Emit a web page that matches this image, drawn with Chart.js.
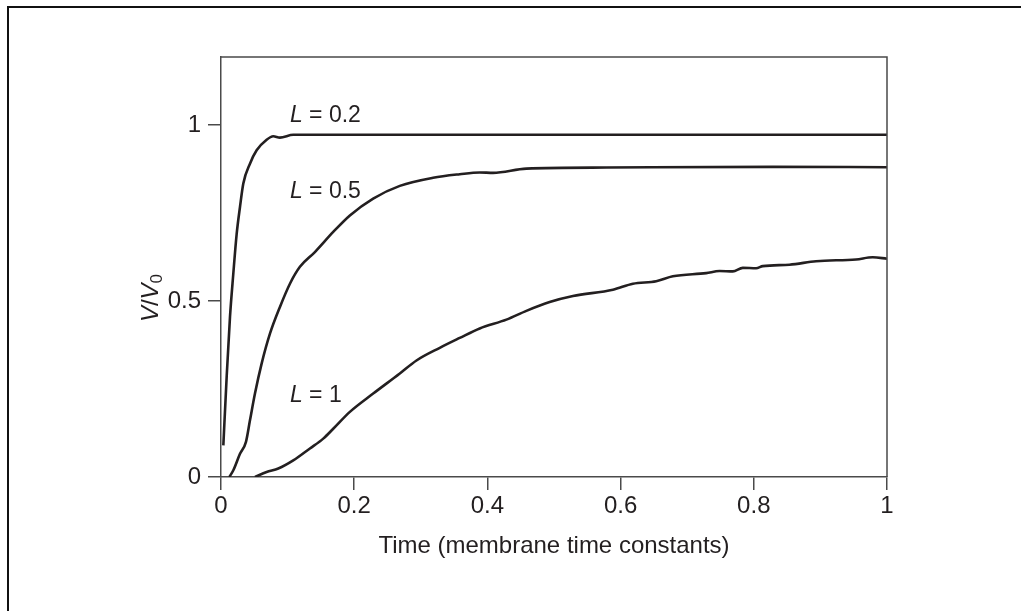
<!DOCTYPE html>
<html>
<head>
<meta charset="utf-8">
<script src="https://cdn.jsdelivr.net/npm/chart.js@4.4.1/dist/chart.umd.min.js"></script>
<style>
  html, body { margin: 0; padding: 0; background: #fff; }
  #wrap { position: relative; width: 1021px; height: 611px; overflow: hidden; }
  #frame { position: absolute; left: 7px; top: 6px; width: 1100px; height: 700px;
           border-top: 2px solid #111; border-left: 2px solid #111; pointer-events: none; }
  canvas { position: absolute; left: 0; top: 0; }
</style>
</head>
<body>
<div id="wrap">
  <canvas id="chart" width="1021" height="611"></canvas>
  <div id="frame"></div>
</div>
<script>
// Time axis ticks and V/V0 ticks
const xTicks = [0, 0.2, 0.4, 0.6, 0.8, 1];
const xTickLabels = ['0', '0.2', '0.4', '0.6', '0.8', '1'];
const yTicks = [0, 0.5, 1];
const yTickLabels = ['0', '0.5', '1'];

// L = 0.2
const t02 = [0.0035, 0.0085, 0.0135, 0.0185, 0.0235, 0.0285, 0.0335, 0.0435, 0.0535, 0.0685, 0.0785, 0.0885, 0.1085, 0.3, 0.6, 1.0];
const v02 = [0.09, 0.284, 0.455, 0.578, 0.69, 0.767, 0.834, 0.89, 0.928, 0.958, 0.968, 0.964, 0.972, 0.972, 0.972, 0.972];

// L = 0.5
const t05 = [0.0125, 0.0185, 0.0285, 0.0375, 0.0435, 0.051, 0.061, 0.0735, 0.0885, 0.1035, 0.1185, 0.141, 0.1685, 0.1935, 0.2285, 0.2685, 0.3185, 0.3585, 0.3885, 0.4085, 0.4585, 0.5785, 0.8285, 1.0];
const v05 = [0, 0.019, 0.066, 0.1, 0.161, 0.237, 0.322, 0.407, 0.483, 0.549, 0.597, 0.639, 0.696, 0.743, 0.791, 0.827, 0.85, 0.86, 0.865, 0.864, 0.876, 0.879, 0.881, 0.880];

// L = 1
const t1 = [0.051, 0.0685, 0.086, 0.1085, 0.1335, 0.1535, 0.1685, 0.1935, 0.2285, 0.2685, 0.2935, 0.3285, 0.3585, 0.3885, 0.4285, 0.4585, 0.4935, 0.5285, 0.5885, 0.6185, 0.6535, 0.6785, 0.7285, 0.7485, 0.7685, 0.7835, 0.8035, 0.8135, 0.8535, 0.8935, 0.9535, 0.9785, 1.0];
const v1 = [0, 0.014, 0.024, 0.047, 0.081, 0.109, 0.137, 0.185, 0.237, 0.294, 0.331, 0.367, 0.395, 0.422, 0.447, 0.472, 0.497, 0.514, 0.532, 0.549, 0.556, 0.570, 0.579, 0.585, 0.584, 0.594, 0.593, 0.599, 0.603, 0.613, 0.618, 0.624, 0.620];

// curve labels (data coordinates of the label's left/middle)
const labelValues = ['0.2', '0.5', '1'];
const labelX = [0.1035, 0.1035, 0.1035];
const labelY = [1.027, 0.81, 0.23];

const FONT = 'Liberation Sans, Arial, Helvetica, sans-serif';
const INK = '#231f20';
const AXIS = '#4a4a4a';

function pts(xs, ys) {
  return xs.map((x, i) => ({ x: x, y: ys[i] }));
}

function curve(data) {
  return {
    data: data,
    borderColor: INK,
    borderWidth: 2.6,
    pointRadius: 0,
    fill: false,
    showLine: true,
    cubicInterpolationMode: 'monotone',
  };
}

// draw pieces [text, font, dy] one after another
function drawRun(ctx, x, y, pieces, align) {
  let w = 0;
  pieces.forEach(p => { ctx.font = p[1]; w += ctx.measureText(p[0]).width; });
  let px = align === 'center' ? x - w / 2 : x;
  ctx.textAlign = 'left';
  ctx.textBaseline = 'middle';
  pieces.forEach(p => {
    ctx.font = p[1];
    ctx.fillText(p[0], px, y + (p[2] || 0));
    px += ctx.measureText(p[0]).width;
  });
}

// box around the plot, curve labels and the rotated y title
const decorations = {
  id: 'decorations',
  afterDraw(chart) {
    const { ctx, chartArea: a, scales } = chart;
    ctx.save();
    ctx.strokeStyle = AXIS;
    ctx.lineWidth = 1.5;
    ctx.beginPath();
    ctx.moveTo(a.left, a.top);
    ctx.lineTo(a.right, a.top);
    ctx.lineTo(a.right, a.bottom);
    ctx.stroke();

    ctx.fillStyle = INK;
    labelValues.forEach((val, i) => {
      const x = scales.x.getPixelForValue(labelX[i]);
      const y = scales.y.getPixelForValue(labelY[i]);
      drawRun(ctx, x, y, [['L', 'italic 23px ' + FONT], [' = ' + val, '23px ' + FONT]], 'left');
    });

    // V/V0
    ctx.translate(151, 298);
    ctx.rotate(-Math.PI / 2);
    const itf = 'italic 24px ' + FONT;
    drawRun(ctx, 0, 0, [['V', itf], ['/', '24px ' + FONT], ['V', itf], ['0', '17px ' + FONT, 6]], 'center');
    ctx.restore();
  },
};

const tickFont = { family: FONT, size: 24 };

new Chart(document.getElementById('chart'), {
  type: 'scatter',
  data: {
    datasets: [curve(pts(t02, v02)), curve(pts(t05, v05)), curve(pts(t1, v1))],
  },
  options: {
    responsive: false,
    animation: false,
    layout: { padding: { left: 0, top: 57, right: 134, bottom: 46 } },
    plugins: { legend: { display: false }, tooltip: { enabled: false } },
    scales: {
      x: {
        type: 'linear',
        min: 0,
        max: 1,
        afterBuildTicks: (s) => { s.ticks = xTicks.map(v => ({ value: v })); },
        afterFit: (s) => { s.height = 88; },
        ticks: {
          color: INK,
          font: tickFont,
          padding: 2,
          maxRotation: 0,
          callback: (v) => xTickLabels[xTicks.indexOf(v)],
        },
        grid: { drawOnChartArea: false, drawTicks: true, tickLength: 13, color: AXIS, lineWidth: 1.5 },
        border: { display: true, color: AXIS, width: 1.5 },
        title: {
          display: true,
          text: 'Time (membrane time constants)',
          color: INK,
          font: tickFont,
        },
      },
      y: {
        type: 'linear',
        min: 0,
        max: 1.193,
        afterBuildTicks: (s) => { s.ticks = yTicks.map(v => ({ value: v })); },
        afterFit: (s) => { s.width = 221; },
        ticks: {
          color: INK,
          font: tickFont,
          padding: 7,
          callback: (v) => yTickLabels[yTicks.indexOf(v)],
        },
        grid: { drawOnChartArea: false, drawTicks: true, tickLength: 13, color: AXIS, lineWidth: 1.5 },
        border: { display: true, color: AXIS, width: 1.5 },
      },
    },
  },
  plugins: [decorations],
});
</script>
</body>
</html>
